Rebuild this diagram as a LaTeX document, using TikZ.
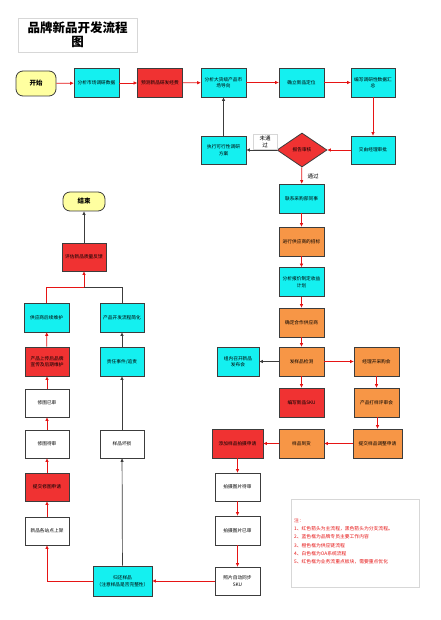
\documentclass[tikz,border=0pt]{standalone}
\usepackage{fontspec}
\setmainfont{Noto Sans CJK SC}
\usetikzlibrary{shapes.geometric,arrows.meta}
\definecolor{cy}{RGB}{20,240,240}
\definecolor{rd}{RGB}{240,50,50}
\definecolor{og}{RGB}{247,150,70}
\definecolor{yl}{RGB}{255,255,160}
\definecolor{bd}{RGB}{60,60,60}
\definecolor{ar}{RGB}{230,20,20}
\definecolor{gl}{RGB}{215,215,215}
\tikzset{
  box/.style={draw=bd, line width=0.8pt, minimum width=45pt, minimum height=29pt, inner sep=1pt, align=center, font=\fontsize{4.7}{6.5}\selectfont},
  cbox/.style={box, fill=cy},
  rbox/.style={box, fill=rd},
  obox/.style={box, fill=og},
  wbox/.style={box, fill=white},
  term/.style={draw=bd, line width=0.8pt, fill=yl, rounded corners=7pt, font=\fontsize{6.5}{8}\selectfont\bfseries},
  rarr/.style={draw=ar, line width=0.7pt, -{Triangle[length=3.5pt,width=3pt]}},
  barr/.style={draw=bd, line width=0.7pt, -{Triangle[length=3.5pt,width=3pt]}},
  lab/.style={fill=white, inner sep=1.5pt, align=center, font=\fontsize{5.5}{7}\selectfont}
}
\begin{document}
\begin{tikzpicture}[x=1pt,y=-1pt]
\useasboundingbox (0,0) rectangle (440,620);
\fill[white] (0,0) rectangle (440,620);
% title
\node[draw=gl, line width=0.6pt, minimum width=119pt, minimum height=34pt, align=center, inner sep=1pt, font=\fontsize{12.5}{14}\selectfont\bfseries] (title) at (77.5,35) {品牌新品开发流程\\图};
% top row
\node[term, minimum width=40pt, minimum height=25pt] (start) at (36,83.5) {开始};
\node[cbox] (b1) at (96.5,83) {分析市场调研数据};
\node[rbox] (b2) at (160,83) {预测新品研发经费};
\node[cbox] (b3) at (223.5,82.5) {分析大货级产品市\\场导向};
\node[cbox] (b4) at (301.5,82.5) {确立新品定位};
\node[cbox, minimum width=44pt] (b5) at (373,82.5) {编写调研性数据汇\\总};
\node[cbox, minimum width=44pt, minimum height=28pt] (b6) at (373,150) {交由经理审批};
\node[draw=bd, line width=0.8pt, fill=rd, diamond, minimum width=50pt, minimum height=34pt, inner sep=0pt, font=\fontsize{4.7}{6}\selectfont] (dia) at (302,150) {报告审核};
\node[cbox, minimum height=28pt] (b7) at (223.5,150) {执行可行性调研\\方案};
% middle column
\node[cbox] (b8) at (301.5,198.5) {联系采购部同事};
\node[obox] (b9) at (301.5,241.5) {进行供应商的招标};
\node[cbox] (b10) at (301.5,282) {分析报价制定收益\\计划};
\node[obox] (b11) at (301.5,322.5) {确定合作供应商};
\node[obox] (b12) at (301.5,361.5) {发样品检测};
\node[cbox, minimum width=42pt] (b13) at (238,361.5) {组内召开新品\\发布会};
\node[obox] (b14) at (376.5,361.5) {经理开采购会};
\node[rbox] (b15) at (301.5,402.5) {编写新品SKU};
\node[obox] (b16) at (376.5,402.5) {产品打样评审会};
\node[obox, minimum width=49pt] (b17) at (377.5,443.5) {提交样品调整申请};
\node[obox] (b18) at (301.5,443.5) {样品到货};
\node[rbox, minimum width=51pt] (b19) at (237.5,443.5) {添加样品拍摄申请};
\node[wbox, minimum height=28pt] (b20) at (237.5,487) {拍摄图片待审};
\node[wbox] (b21) at (237.5,530.5) {拍摄图片已审};
\node[wbox, minimum height=28pt] (b22) at (237.5,581) {照片自动同步\\SKU};
% left part
\node[cbox, minimum width=59pt, minimum height=30pt] (b23) at (122.5,581) {归还样品\\（注意样品是否完整性）};
\node[wbox, minimum width=44pt, minimum height=28pt] (b24) at (47,531) {新品各站点上架};
\node[rbox, minimum width=44pt, minimum height=28pt] (b25) at (47,487) {提交修图申请};
\node[wbox, minimum width=44pt, minimum height=28pt] (b26) at (47,444) {修图待审};
\node[wbox, minimum width=44pt, minimum height=28pt] (b27) at (47,403) {修图已审};
\node[rbox, minimum width=44pt] (b28) at (47,361.5) {产品上传后品牌\\宣传及后期维护};
\node[cbox, minimum width=44pt] (b29) at (122,361.5) {责任事件/追责};
\node[wbox, minimum width=44pt, minimum height=28pt] (b30) at (122,444) {样品坏损};
\node[cbox] (b31) at (46.5,317.5) {供应商后续维护};
\node[cbox, minimum width=44pt] (b32) at (122,317.5) {产品开发流程简化};
\node[rbox, minimum width=44pt, minimum height=28pt] (b33) at (84,257) {评估新品质量反馈};
\node[term, minimum width=42pt, minimum height=19pt] (end) at (84,201.5) {结束};
% note
\node[draw=gl, line width=0.5pt, minimum width=128pt, minimum height=88pt] (note) at (355,543) {};
\node[anchor=north west, align=left, text=ar, inner sep=0pt, font=\fontsize{4.8}{8.3}\selectfont] (notetext) at (294,518) {注：\\1、红色箭头为主流程，黑色箭头为分支流程。\\2、蓝色框为品牌专员主要工作内容\\3、橙色框为供应链流程\\4、白色框为OA系统流程\\5、红色框为业务流重点板块，需要重点优化};
% connectors top
\draw[rarr] (start) -- (b1);
\draw[rarr] (b1) -- (b2);
\draw[rarr] (b2) -- (b3);
\draw[rarr] (b3) -- (b4);
\draw[rarr] (b4) -- (b5);
\draw[rarr] (b5) -- (b6);
\draw[rarr] (b6) -- (dia);
\draw[barr] (dia) -- (b7);
\node[lab, draw=gl, line width=0.4pt, minimum width=24pt, minimum height=15pt] (ntg) at (265,141.5) {未通\\过};
\draw[barr] (b7) -- (b3);
\draw[rarr] (dia) -- (b8);
\node[lab] (tg) at (313,176) {通过};
% middle
\draw[rarr] (b8) -- (b9);
\draw[rarr] (b9) -- (b10);
\draw[rarr] (b10) -- (b11);
\draw[rarr] (b11) -- (b12);
\draw[barr] (b12) -- (b13);
\draw[rarr] (b12) -- (b14);
\draw[rarr] (b12) -- (b15);
\draw[rarr] (b14) -- (b16);
\draw[rarr] (b16.south -| b17) -- (b17);
\draw[rarr] (b17) -- (b18);
\draw[rarr] (b18) -- (b19);
\draw[rarr] (b19) -- (b20);
\draw[rarr] (b20) -- (b21);
\draw[rarr] (b21) -- (b22);
\draw[rarr] (b22) -- (b23);
% left
\draw[rarr] (b23.west) -| (b24.south);
\draw[barr] (b23) -- (b30);
\draw[rarr] (b24) -- (b25);
\draw[rarr] (b25) -- (b26);
\draw[rarr] (b26) -- (b27);
\draw[rarr] (b27) -- (b28);
\draw[rarr] (b28) -- (b31);
\draw[barr] (b30) -- (b29);
\draw[barr] (b29) -- (b32);
\coordinate (j) at (84,287);
\draw[draw=bd, line width=0.7pt] (b32.north) |- (j);
\draw[draw=ar, line width=0.7pt] (b31.north) |- (j);
\draw[rarr] (j) -- (b33.south);
\draw[barr] (b33) -- (end);
\end{tikzpicture}
\end{document}
